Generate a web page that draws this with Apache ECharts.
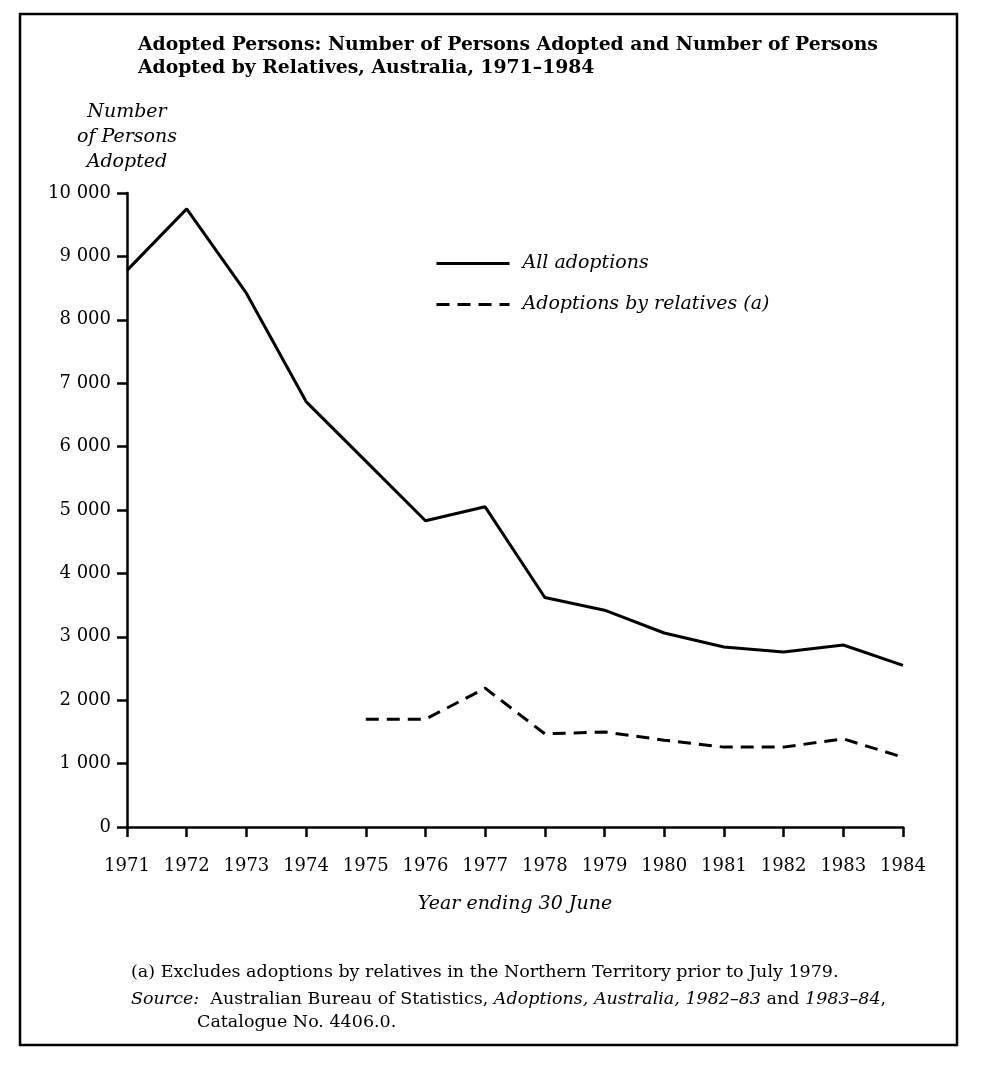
<!DOCTYPE html>
<html>
<head>
<meta charset="utf-8">
<script src="https://cdn.jsdelivr.net/npm/echarts@6/dist/echarts.min.js"></script>
<style>
  html, body { margin: 0; padding: 0; background: #fff; }
  #chart { width: 981px; height: 1065px; }
</style>
</head>
<body>
<div id="chart"></div>
<script>
// data
const years = ['1971', '1972', '1973', '1974', '1975', '1976', '1977', '1978', '1979', '1980', '1981', '1982', '1983', '1984'];
const allAdoptions = [8780, 9750, 8420, 6710, 5770, 4830, 5050, 3620, 3420, 3060, 2840, 2760, 2870, 2550];
const byRelatives = [null, null, null, null, 1700, 1700, 2190, 1470, 1500, 1370, 1260, 1260, 1390, 1100];
const seriesNames = ['All adoptions', 'Adoptions by relatives (a)'];

const serif = "'DejaVu Serif', 'Liberation Serif', serif";

const chart = echarts.init(document.getElementById('chart'));

const fmt = function (v) {
	// thousands with a space, like the print
	if (v < 1000) return String(v);
	return Math.floor(v / 1000) + ' ' + String(v % 1000).padStart(3, '0');
};

chart.setOption({
	backgroundColor: '#fff',
	animation: false,
	title: {
		text: 'Adopted Persons: Number of Persons Adopted and Number of Persons\nAdopted by Relatives, Australia, 1971–1984',
		left: 133,
		top: 29,
		textStyle: {
			fontFamily: serif,
			fontWeight: 'bold',
			fontSize: 18.8,
			lineHeight: 23,
			color: '#000'
		}
	},
	legend: {
		orient: 'vertical',
		left: 430,
		top: 249,
		itemWidth: 73,
		itemHeight: 16,
		itemGap: 22,
		data: seriesNames,
		itemStyle: { opacity: 0 },
		lineStyle: { width: 3 },
		textStyle: {
			fontFamily: serif,
			fontStyle: 'italic',
			fontSize: 19,
			color: '#000',
			padding: [0, 0, 0, 8]
		}
	},
	grid: {
		left: 127,
		right: 78,
		top: 193,
		bottom: 238
	},
	xAxis: {
		type: 'category',
		data: years,
		boundaryGap: false,
		name: 'Year ending 30 June',
		nameLocation: 'middle',
		nameGap: 68,
		nameTextStyle: {
			fontFamily: serif,
			fontStyle: 'italic',
			fontSize: 19,
			color: '#000'
		},
		axisLine: { lineStyle: { color: '#000', width: 2.5 } },
		axisTick: { length: 10, interval: 0, lineStyle: { color: '#000', width: 2.5 } },
		axisLabel: {
			interval: 0,
			hideOverlap: false,
			margin: 30,
			fontFamily: serif,
			fontSize: 18,
			color: '#000'
		},
		splitLine: { show: false }
	},
	yAxis: {
		type: 'value',
		min: 0,
		max: 10000,
		interval: 1000,
		name: 'Number\nof Persons\nAdopted',
		nameLocation: 'end',
		nameGap: 18,
		nameTextStyle: {
			fontFamily: serif,
			fontStyle: 'italic',
			fontSize: 19,
			lineHeight: 25,
			color: '#000',
			align: 'center'
		},
		axisLine: { show: true, lineStyle: { color: '#000', width: 2.5 } },
		axisTick: { show: true, length: 10, lineStyle: { color: '#000', width: 2.5 } },
		axisLabel: {
			margin: 16,
			fontFamily: serif,
			fontSize: 18,
			color: '#000',
			formatter: fmt
		},
		splitLine: { show: false }
	},
	series: [{
		name: seriesNames[0],
		type: 'line',
		data: allAdoptions,
		symbol: 'none',
		lineStyle: { color: '#000', width: 3, type: 'solid' },
		itemStyle: { color: '#000' }
	}, {
		name: seriesNames[1],
		type: 'line',
		data: byRelatives,
		symbol: 'none',
		connectNulls: false,
		lineStyle: { color: '#000', width: 3, type: [13, 8] },
		itemStyle: { color: '#000' }
	}],
	graphic: [{
		// frame round the figure
		type: 'rect',
		shape: { x: 20, y: 14, width: 937, height: 1031 },
		style: { fill: 'none', stroke: '#000', lineWidth: 2.5 },
		silent: true
	}, {
		type: 'text',
		left: 131,
		top: 963,
		style: {
			text: '(a) Excludes adoptions by relatives in the Northern Territory prior to July 1979.',
			font: '17.5px ' + serif,
			fill: '#000'
		}
	}, {
		type: 'text',
		left: 131,
		top: 990,
		style: {
			text: '{i|Source:}  Australian Bureau of Statistics, {i|Adoptions, Australia, 1982–83} and {i|1983–84},',
			font: '17.5px ' + serif,
			fill: '#000',
			rich: {
				i: { fontStyle: 'italic', fontFamily: serif, fontSize: 17.5 }
			}
		}
	}, {
		type: 'text',
		left: 197,
		top: 1013,
		style: {
			text: 'Catalogue No. 4406.0.',
			font: '17.5px ' + serif,
			fill: '#000'
		}
	}]
});
</script>
</body>
</html>
